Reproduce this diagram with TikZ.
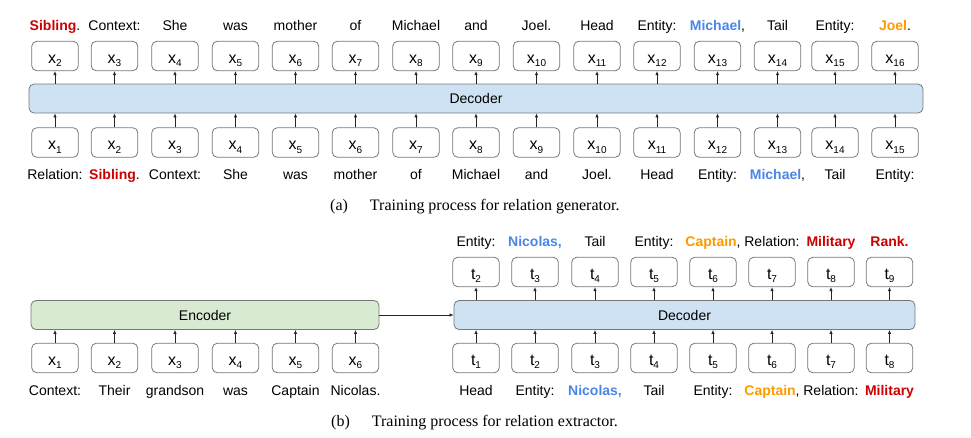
\documentclass[tikz,border=0pt]{standalone}
\usepackage{fontspec}
\setmainfont{Liberation Sans}
\newfontfamily\capfont{Liberation Serif}
\usetikzlibrary{arrows.meta}

\definecolor{relred}{HTML}{CC0000}
\definecolor{entblue}{HTML}{4A86E8}
\definecolor{entorange}{HTML}{FF9900}
\definecolor{decfill}{HTML}{CFE2F3}
\definecolor{encfill}{HTML}{D9EAD3}
\definecolor{boxline}{HTML}{777777}

\newcommand{\relw}[1]{\textcolor{relred}{\textbf{#1}}}
\newcommand{\headw}[1]{\textcolor{entblue}{\textbf{#1}}}
\newcommand{\tailw}[1]{\textcolor{entorange}{\textbf{#1}}}
\newcommand{\tokn}[2]{\fontsize{16}{16}\selectfont #1\raisebox{-3.5pt}{\fontsize{10}{10}\selectfont #2}}

\begin{document}
\begin{tikzpicture}[x=1pt, y=-1pt, font=\fontsize{14}{16}\selectfont,
  tokbox/.style={draw=boxline, line width=0.8pt, rounded corners=5pt, minimum width=46.5pt, minimum height=29.5pt, inner sep=0pt, text height=15pt, text depth=1pt},
  wordlbl/.style={anchor=base, inner sep=0pt},
  decbox/.style={draw=boxline, line width=0.8pt, fill=decfill, rounded corners=5pt, inner sep=0pt, minimum height=29pt},
  encbox/.style={decbox, fill=encfill},
  up/.style={-{Latex[length=4pt,width=3.5pt]}, line width=0.7pt, black!85},
  capt/.style={anchor=base west, inner sep=0pt, font=\capfont\fontsize{16}{18}\selectfont}]
\useasboundingbox (0,0) rectangle (971,437);

% (a) relation generator
\node[decbox, minimum width=894pt] (deca) at (476,98.5) {Decoder};
\foreach \px/\wa/\wb [count=\i] in {55/{\relw{Sibling}.}/{Relation:}, 114.5/{Context:}/{\relw{Sibling}.},
    175/{She}/{Context:}, 235.5/{was}/{She}, 295.5/{mother}/{was}, 355.5/{of}/{mother},
    416/{Michael}/{of}, 476/{and}/{Michael}, 536.5/{Joel.}/{and}, 597/{Head}/{Joel.},
    657/{Entity:}/{Head}, 717.5/{\headw{Michael},}/{Entity:}, 777.5/{Tail}/{\headw{Michael},},
    835/{Entity:}/{Tail}, 895/{\tailw{Joel}.}/{Entity:}}{
  \pgfmathtruncatemacro\j{\i+1}
  \node[tokbox] (xout\i) at (\px,56) {\tokn{x}{\j}};
  \node[tokbox] (xin\i) at (\px,142.5) {\tokn{x}{\i}};
  \node[wordlbl] (wout\i) at (\px,30.7) {\wa};
  \node[wordlbl] (win\i) at (\px,179) {\wb};
  \draw[up] (xin\i.north) -- (xin\i.north |- deca.south);
  \draw[up] (xout\i.south |- deca.north) -- (xout\i.south);
}
\node[capt] (capa) at (330,210.7) {(a)\hspace{22pt}Training process for relation generator.};

% (b) relation extractor
\node[encbox, minimum width=348pt] (encb) at (205,315) {Encoder};
\node[decbox, minimum width=461pt] (decb) at (684.5,315) {Decoder};
\draw[up] (encb.east) -- (decb.west);
\foreach \px/\w [count=\i] in {55/{Context:}, 114.5/{Their}, 175/{grandson}, 235.5/{was},
    295.5/{Captain}, 355.5/{Nicolas.}}{
  \node[tokbox] (cin\i) at (\px,358) {\tokn{x}{\i}};
  \node[wordlbl] (cw\i) at (\px,395) {\w};
  \draw[up] (cin\i.north) -- (cin\i.north |- encb.south);
}
\foreach \px/\wa/\wb [count=\i] in {476/{Entity:}/{Head}, 535/{\headw{Nicolas,}}/{Entity:},
    595/{Tail}/{\headw{Nicolas,}}, 654/{Entity:}/{Tail}, 713/{\tailw{Captain},}/{Entity:},
    772/{Relation:}/{\tailw{Captain},}, 831/{\relw{Military}}/{Relation:}, 889.5/{\relw{Rank.}}/{\relw{Military}}}{
  \pgfmathtruncatemacro\j{\i+1}
  \node[tokbox] (tout\i) at (\px,272) {\tokn{t}{\j}};
  \node[tokbox] (tin\i) at (\px,358) {\tokn{t}{\i}};
  \node[wordlbl] (tw\i) at (\px,246.5) {\wa};
  \node[wordlbl] (sw\i) at (\px,395) {\wb};
  \draw[up] (tin\i.north) -- (tin\i.north |- decb.south);
  \draw[up] (tout\i.south |- decb.north) -- (tout\i.south);
}
\node[capt] (capb) at (331,426.7) {(b)\hspace{22pt}Training process for relation extractor.};
\end{tikzpicture}
\end{document}
